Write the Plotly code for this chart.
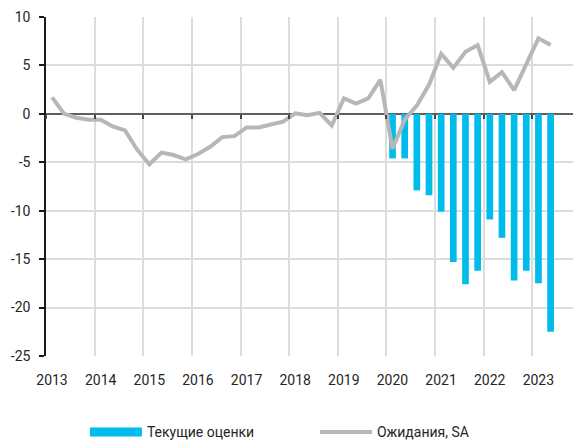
import plotly.graph_objects as go

# Quarterly categories 2013Q1 .. 2023Q2
years = ["2013", "2014", "2015", "2016", "2017", "2018", "2019", "2020", "2021", "2022", "2023"]
quarters = [f"{y}Q{q}" for y in years for q in range(1, 5)][:42]

# Expectations, SA (line), 2013Q1..2023Q2
expectations = [1.7, 0.0, -0.4, -0.6, -0.6, -1.3, -1.7, -3.7,
                -5.2, -4.0, -4.25, -4.7, -4.15, -3.4, -2.4, -2.3,
                -1.4, -1.4, -1.1, -0.8, 0.05, -0.15, 0.1, -1.2,
                1.6, 1.05, 1.6, 3.5, -3.6, -0.6, 0.85, 3.0,
                6.2, 4.75, 6.4, 7.1, 3.3, 4.3, 2.45, 5.2,
                7.8, 7.1]

# Current estimates (bars), 2020Q1..2023Q2
current_quarters = quarters[28:]
current = [-4.6, -4.6, -7.9, -8.4, -10.1, -15.3, -17.6, -16.2,
           -10.9, -12.8, -17.2, -16.2, -17.5, -22.5]

y_ticks = [-25, -20, -15, -10, -5, 0, 5, 10]
y_ticktext = ["-25", "-20", "-15", "-10", "-5", "0", "5", "10"]

BLUE = "#00BCEB"
GREY = "#B7B7B7"
TEXT = "#262626"

x_line = [quarters.index(q) for q in quarters]
x_bar = [quarters.index(q) for q in current_quarters]
year_pos = [quarters.index(y + "Q1") for y in years]
year_bounds = [p - 0.5 for p in year_pos]

fig = go.Figure()
fig.add_trace(go.Bar(x=x_bar, y=current, marker=dict(color=BLUE, line=dict(width=0)),
                     width=0.55, name="Текущие оценки", showlegend=False))
fig.add_trace(go.Scatter(x=x_line, y=expectations, mode="lines",
                         line=dict(color=GREY, width=4), name="Ожидания, SA", showlegend=False))
# legend proxies
fig.add_trace(go.Scatter(x=[None], y=[None], mode="lines", line=dict(color=BLUE, width=9),
                         name="Текущие оценки"))
fig.add_trace(go.Scatter(x=[None], y=[None], mode="lines", line=dict(color=GREY, width=4),
                         name="Ожидания, SA"))
# dummy trace so that the zero-line tick axis is drawn
fig.add_trace(go.Scatter(x=[None], y=[None], xaxis="x2", mode="lines", showlegend=False,
                         hoverinfo="skip"))

xr = [-0.5, 43.5]
fig.update_layout(
    width=573, height=433,
    margin=dict(l=38, r=0, t=9, b=85, autoexpand=False),
    plot_bgcolor="white", paper_bgcolor="white",
    font=dict(family="Roboto", size=14, color=TEXT),
    xaxis=dict(range=xr, tickmode="array", tickvals=year_bounds, ticktext=years,
               ticklabelshift=6,
               showgrid=True, gridcolor="#DCDCDC", gridwidth=1.5,
               zeroline=False, showline=False, ticks="", automargin=False,
               ticklabelstandoff=14, tickfont=dict(size=14, color=TEXT)),
    xaxis2=dict(range=xr, overlaying="x", anchor="free", position=25/35,
                tickmode="array", tickvals=year_bounds, showticklabels=False,
                showgrid=False, automargin=False,
                ticks="outside", ticklen=4, tickwidth=1.5, tickcolor="#444444",
                showline=False, zeroline=False),
    yaxis=dict(range=[-25, 10], tickmode="array", tickvals=y_ticks, ticktext=y_ticktext,
               showgrid=True, gridcolor="#DCDCDC", gridwidth=1.5,
               zeroline=True, zerolinecolor="#5F5F5F", zerolinewidth=2,
               showline=True, linecolor="#1A1A1A", linewidth=1.5,
               ticks="outside", ticklen=5, tickwidth=1.5, tickcolor="#1A1A1A",
               automargin=False,
               ticklabelstandoff=6, tickfont=dict(size=14, color=TEXT)),
    legend=dict(orientation="h", x=0.0727, xanchor="left", y=-0.225, yanchor="middle",
                entrywidth=163, entrywidthmode="pixels", itemwidth=52,
                font=dict(size=14, color=TEXT), bgcolor="rgba(0,0,0,0)"),
)

fig.write_html("out.html")
